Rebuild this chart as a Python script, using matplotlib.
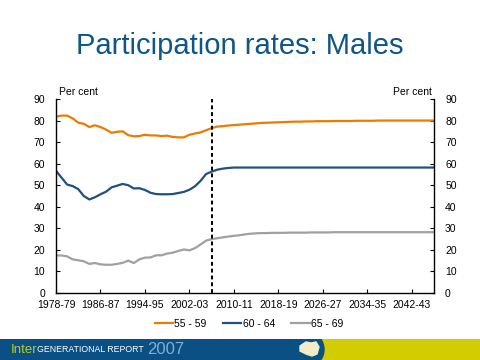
import matplotlib
matplotlib.use("Agg")
import matplotlib.pyplot as plt
from matplotlib.patches import Rectangle, Ellipse, Polygon

plt.rcParams['font.family'] = ['Liberation Sans', 'DejaVu Sans']

# Financial years, labelled by start year (1978-79 ... 2046-47)
years = list(range(1978, 2047))

rate_55_59 = [81.8, 82.3, 82.3, 81.0, 79.0, 78.5, 77.0, 77.8, 77.0, 75.8,
              74.3, 74.8, 75.0, 73.2, 72.7, 72.8, 73.4, 73.1, 73.1, 72.8,
              73.0, 72.4, 72.2, 72.2, 73.4, 74.0, 74.5, 75.5, 76.5, 77.2,
              77.4, 77.7, 77.9, 78.1, 78.3, 78.5, 78.7, 78.9, 79.0, 79.1,
              79.2, 79.3, 79.4, 79.5, 79.5, 79.6, 79.6, 79.7, 79.7, 79.7,
              79.8, 79.8, 79.8, 79.8, 79.9, 79.9, 79.9, 79.9, 80.0, 80.0,
              80.0, 80.0, 80.0, 80.0, 80.0, 80.0, 80.0, 80.0, 80.0]

rate_60_64 = [56.7, 53.5, 50.3, 49.6, 48.2, 45.0, 43.4, 44.4, 45.8, 47.0,
              49.0, 49.8, 50.6, 50.0, 48.5, 48.6, 47.8, 46.5, 45.9, 45.8,
              45.8, 45.9, 46.4, 46.9, 47.9, 49.5, 52.0, 55.2, 56.3, 57.2,
              57.7, 58.0, 58.2, 58.2, 58.2, 58.2, 58.2, 58.2, 58.2, 58.2,
              58.2, 58.2, 58.2, 58.2, 58.2, 58.2, 58.2, 58.2, 58.2, 58.2,
              58.2, 58.2, 58.2, 58.2, 58.2, 58.2, 58.2, 58.2, 58.2, 58.2,
              58.2, 58.2, 58.2, 58.2, 58.2, 58.2, 58.2, 58.2, 58.2]

rate_65_69 = [17.4, 17.4, 17.0, 15.6, 15.2, 14.7, 13.5, 13.9, 13.3, 13.1,
              13.1, 13.5, 14.0, 15.0, 13.9, 15.6, 16.4, 16.5, 17.5, 17.5,
              18.3, 18.7, 19.5, 20.2, 19.8, 20.8, 22.5, 24.3, 25.0, 25.4,
              25.8, 26.2, 26.5, 26.8, 27.2, 27.5, 27.7, 27.8, 27.8, 27.9,
              27.9, 27.9, 28.0, 28.0, 28.0, 28.0, 28.1, 28.1, 28.1, 28.1,
              28.2, 28.2, 28.2, 28.2, 28.2, 28.2, 28.2, 28.2, 28.2, 28.2,
              28.2, 28.2, 28.2, 28.2, 28.2, 28.2, 28.2, 28.2, 28.2]

tick_years = [1978, 1986, 1994, 2002, 2010, 2018, 2026, 2034, 2042]
tick_labels = ['1978-79', '1986-87', '1994-95', '2002-03', '2010-11',
               '2018-19', '2026-27', '2034-35', '2042-43']
projection_start = 2006

ORANGE = '#EC7B00'
BLUE = '#1F5080'
GREY = '#A0A0A0'
TITLE_BLUE = '#0E5588'

fig = plt.figure(figsize=(4.8, 3.6), dpi=100)
fig.text(0.5, 0.872, 'Participation rates: Males', ha='center', va='center',
         fontsize=21, color=TITLE_BLUE)

ax = fig.add_axes([56 / 480, 67 / 360, 378 / 480, 194 / 360])
ax.plot(years, rate_55_59, color=ORANGE, lw=1.6, label='55 - 59')
ax.plot(years, rate_60_64, color=BLUE, lw=1.6, label='60 - 64')
ax.plot(years, rate_65_69, color=GREY, lw=1.6, label='65 - 69')
ax.axvline(projection_start, color='black', lw=1.4, ls=(0, (2, 1.5)))

ax.set_xlim(1978, 2046)
ax.set_ylim(0, 90)
ax.set_yticks(range(0, 91, 10))
ax.set_xticks(tick_years)
ax.set_xticklabels(tick_labels)
ax.spines['top'].set_visible(False)
for s in ['left', 'right', 'bottom']:
    ax.spines[s].set_linewidth(1.0)
ax.tick_params(axis='x', direction='in', length=3, labelsize=7.5, pad=5)
ax.tick_params(axis='y', direction='in', length=3, labelsize=7.5,
               right=True, labelright=True, pad=8)

fig.text(59 / 480, 1 - 92 / 360, 'Per cent', fontsize=7.5, va='center')
fig.text(432 / 480, 1 - 92 / 360, 'Per cent', fontsize=7.5, va='center',
         ha='right')

fig.legend(loc='center', bbox_to_anchor=(0.5 + 9 / 480, 1 - 324 / 360),
           ncol=3, frameon=False, fontsize=7.5, handlelength=1.75,
           handletextpad=0.1, columnspacing=1.6)

# footer banner
bx = fig.add_axes([0, 0, 1, 21 / 360])
bx.set_xlim(0, 480)
bx.set_ylim(0, 21)
bx.axis('off')
bx.add_patch(Rectangle((0, 0), 480, 21, color='#D2CC00'))
bx.add_patch(Rectangle((0, 0), 318, 21, color='#0B5085'))
bx.add_patch(Ellipse((312, 10.5), 24, 30, color='#0B5085'))
bx.add_patch(Polygon([(300, 14), (306, 18), (311, 17), (316, 18), (319, 13),
                      (317, 6), (312, 4), (306, 6), (300, 9)],
                     closed=True, color='#F2EDC8'))
bx.text(11, 10, 'Inter', color='#B8CC1A', fontsize=9.5, va='center')
bx.text(37, 10, 'GENERATIONAL REPORT', color='white', fontsize=6.3,
        va='center')
bx.text(147, 10, '2007', color='#7FAFD6', fontsize=12, va='center')

fig.savefig('out.png', dpi=100)
